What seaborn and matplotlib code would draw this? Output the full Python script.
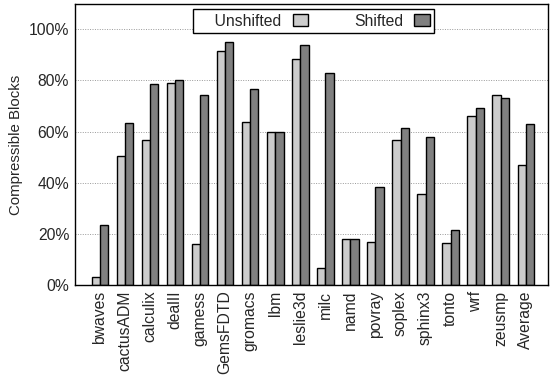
import matplotlib
matplotlib.use("Agg")
import matplotlib.pyplot as plt
import seaborn as sns
import pandas as pd

# Data
benchmarks = ["bwaves", "cactusADM", "calculix", "dealII", "gamess", "GemsFDTD",
              "gromacs", "lbm", "leslie3d", "milc", "namd", "povray", "soplex",
              "sphinx3", "tonto", "wrf", "zeusmp", "Average"]
unshifted = [3.2, 50.6, 56.8, 79.0, 15.9, 91.4, 63.9, 60.0, 88.4, 6.5,
             17.9, 16.7, 56.7, 35.6, 16.3, 66.1, 74.2, 47.0]
shifted = [23.5, 63.2, 78.5, 80.2, 74.4, 95.2, 76.7, 60.0, 93.9, 82.8,
           17.9, 38.2, 61.3, 58.0, 21.6, 69.1, 73.3, 62.8]
yticks = [0, 20, 40, 60, 80, 100]

df = pd.DataFrame({
    "bench": benchmarks * 2,
    "value": unshifted + shifted,
    "kind": ["Unshifted"] * len(benchmarks) + ["Shifted"] * len(benchmarks),
})

sns.set_style("white")
plt.rcParams["font.family"] = ["Liberation Sans", "DejaVu Sans"]
fs = 11.3

fig, ax = plt.subplots(figsize=(5.5, 3.81), dpi=100)
sns.barplot(data=df, x="bench", y="value", hue="kind",
            palette={"Unshifted": "#cccccc", "Shifted": "#808080"},
            width=0.66, edgecolor="black", linewidth=1.0, ax=ax,
            errorbar=None)

ax.set_xlim(-1.0, 17.9)
ax.set_ylim(0, 110)
ax.set_yticks(yticks)
ax.set_yticklabels([f"{t}%" for t in yticks], fontsize=fs)
ax.set_xticks(range(len(benchmarks)))
ax.set_xticklabels(benchmarks, rotation=90, fontsize=fs)
ax.set_xlabel("")
ax.set_ylabel("Compressible Blocks", fontsize=fs - 0.5)
ax.tick_params(axis="both", length=0, pad=4)

for t in yticks[1:]:
    ax.axhline(t, color="#999999", linestyle=(0, (1, 1.5)), linewidth=0.7, zorder=0)
ax.set_axisbelow(True)

for s in ax.spines.values():
    s.set_color("black")
    s.set_linewidth(1.0)

# gnuplot-style key: text right-aligned, box after it
handles, labels = ax.get_legend_handles_labels()
labels = ["    " + labels[0], labels[1]]
leg = ax.legend(handles, labels, loc="upper left", bbox_to_anchor=(0.249, 0.982),
                borderaxespad=0, ncol=2, markerfirst=False, fontsize=fs,
                frameon=True, fancybox=False, edgecolor="black", framealpha=1,
                columnspacing=2.9, handlelength=1.0, handleheight=0.85,
                handletextpad=0.7, borderpad=0.3)
leg.get_frame().set_linewidth(1.0)

plt.subplots_adjust(left=0.136, right=0.997, top=0.99, bottom=0.252)
plt.savefig("out.png", dpi=100)
